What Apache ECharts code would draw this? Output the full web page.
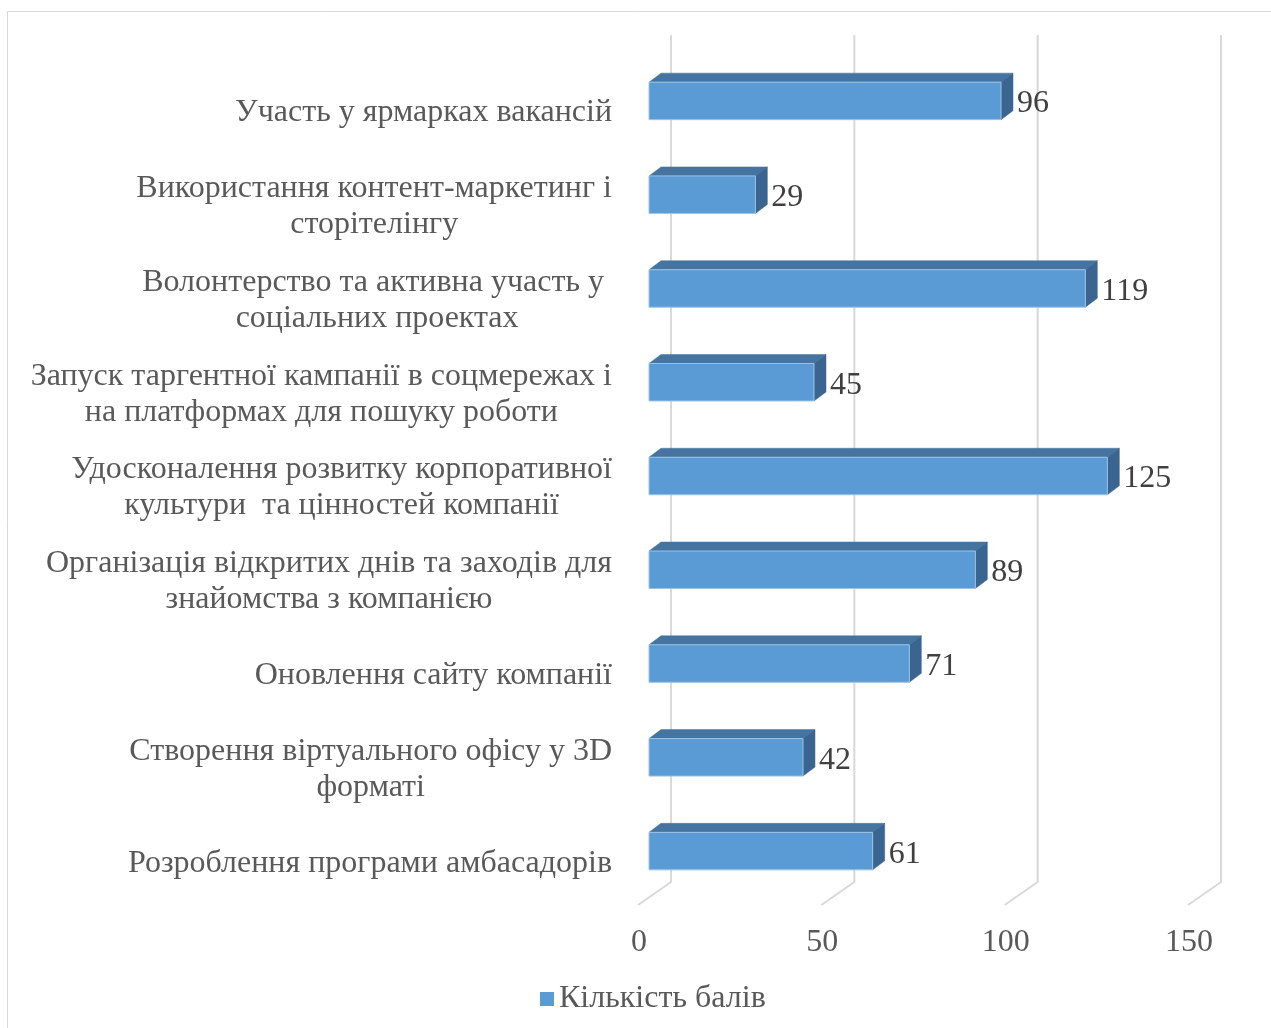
<!DOCTYPE html>
<html>
<head>
<meta charset="utf-8">
<script src="https://cdn.jsdelivr.net/npm/echarts@6/dist/echarts.min.js"></script>
<style>
html,body{margin:0;padding:0;background:#fff;}
#chart{width:1271px;height:1028px;}
</style>
</head>
<body>
<div id="chart"></div>
<script>
const categories = [
  'Участь у ярмарках вакансій',
  'Використання контент-маркетинг і\nсторітелінгу',
  'Волонтерство та активна участь у \nсоціальних проектах',
  'Запуск таргентної кампанії в соцмережах і\nна платформах для пошуку роботи',
  'Удосконалення розвитку корпоративної\nкультури  та цінностей компанії',
  'Організація відкритих днів та заходів для\nзнайомства з компанією',
  'Оновлення сайту компанії',
  'Створення віртуального офісу у 3D\nформаті',
  'Розроблення програми амбасадорів'
];
const values = [96, 29, 119, 45, 125, 89, 71, 42, 61];
const seriesName = 'Кількість балів';
const xTicks = [0, 50, 100, 150];

const FONT = '"Liberation Serif", "Times New Roman", serif';
const FS = 32;
const chart = echarts.init(document.getElementById('chart'), null, {renderer: 'canvas'});

const DX = 12, DY = 9;

const option = {
  animation: false,
  backgroundColor: '#fff',
  graphic: [{
    type: 'rect', z: -10,
    shape: {x: 7.5, y: 11.5, width: 1300, height: 1100},
    style: {fill: 'none', stroke: '#D9D9D9', lineWidth: 1}
  }],
  grid: {left: 649, right: 72, top: 66, bottom: 118, containLabel: false},
  legend: {
    data: [seriesName],
    left: 535, top: 978,
    icon: 'rect', itemWidth: 14, itemHeight: 14, itemGap: 8,
    textStyle: {fontFamily: FONT, fontSize: FS, color: '#595959'}
  },
  xAxis: {
    type: 'value', min: 0, max: 150, interval: 50,
    axisLine: {show: false}, axisTick: {show: false}, splitLine: {show: false},
    axisLabel: {
      fontFamily: FONT, fontSize: FS, color: '#595959', margin: 17,
      padding: [0, 20, 0, 0],
      formatter: v => xTicks.indexOf(v) >= 0 ? String(v) : ''
    }
  },
  yAxis: {
    type: 'category', inverse: true, data: categories,
    axisLine: {show: false}, axisTick: {show: false}, splitLine: {show: false},
    axisLabel: {
      margin: 37, align: 'right',
      formatter: v => v.split('\n').map(l => '{c|' + l + '}').join('\n'),
      rich: {c: {align: 'center', fontFamily: FONT, fontSize: FS, color: '#595959', lineHeight: 36}}
    }
  },
  series: [
    {
      type: 'custom', name: 'grid', z: 1, silent: true,
      data: xTicks.map(v => [v]),
      encode: {x: 0},
      renderItem: function (params, api) {
        const cs = params.coordSys;
        const x = api.coord([api.value(0), 0])[0];
        const yTop = cs.y - 31;
        const yFloor = cs.y + cs.height - 28;
        const yFront = cs.y + cs.height - 5;
        return {
          type: 'polyline',
          shape: {points: [[x + 22, yTop], [x + 22, yFloor], [x - 11, yFront]]},
          style: {stroke: '#D9D9D9', lineWidth: 2, fill: 'none'}
        };
      }
    },
    {
      type: 'custom', name: seriesName, z: 5,
      itemStyle: {color: '#5B9BD5'},
      data: values.map((v, i) => [v, i]),
      encode: {x: 0, y: 1},
      renderItem: function (params, api) {
        const v = api.value(0), c = api.value(1);
        const p0 = api.coord([0, c]);
        const p1 = api.coord([v, c]);
        const band = api.size([0, 1])[1];
        const h = band * 0.4;
        const yc = p0[1] - 12;
        const top = yc - h / 2, bot = yc + h / 2;
        const x0 = p0[0], x1 = p1[0];
        return {
          type: 'group',
          children: [
            {type: 'polygon', shape: {points: [[x0, top], [x0 + DX, top - DY], [x1 + DX, top - DY], [x1, top]]},
             style: {fill: '#44749F', stroke: '#44749F', lineWidth: 0.5}},
            {type: 'polygon', shape: {points: [[x1, top], [x1 + DX, top - DY], [x1 + DX, bot - DY], [x1, bot]]},
             style: {fill: '#3A6590', stroke: '#3A6590', lineWidth: 0.5}},
            {type: 'rect', shape: {x: x0, y: top, width: x1 - x0, height: h},
             style: {fill: '#5B9BD5', stroke: '#9DC3E6', lineWidth: 1}},
            {type: 'text', x: x1 + DX + 4, y: yc + 3,
             style: {text: String(v), fill: '#404040', font: FS + 'px ' + FONT, verticalAlign: 'middle', align: 'left'}}
          ]
        };
      }
    }
  ]
};
chart.setOption(option);
</script>
</body>
</html>
